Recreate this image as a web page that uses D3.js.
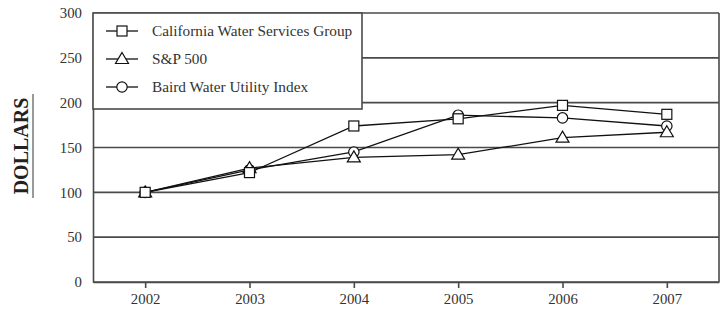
<!DOCTYPE html>
<html>
<head>
<meta charset="utf-8">
<script src="https://cdn.jsdelivr.net/npm/d3@7"></script>
<style>
  html, body { margin: 0; padding: 0; background: #fff; }
  svg { display: block; }
  text { font-family: "Liberation Serif", "Times New Roman", serif; }
</style>
</head>
<body>
<svg id="chart" width="720" height="313"></svg>
<script>
const years = ["2002", "2003", "2004", "2005", "2006", "2007"];
const yTicks = [0, 50, 100, 150, 200, 250, 300];
const seriesNames = ["California Water Services Group", "S&P 500", "Baird Water Utility Index"];
const seriesSymbols = ["square", "triangle", "circle"];
const calWater = [100, 122, 174, 182, 197, 187];
const sp500 = [100, 127, 139, 142, 161, 167];
const baird = [100, 125, 145, 186, 183, 174];
const seriesValues = [calWater, sp500, baird];

const svg = d3.select("#chart");
const W = 720, H = 313;
const m = { left: 93, right: 1, top: 13, bottom: 31 };
const x = d3.scalePoint().domain(years).range([m.left, W - m.right]).padding(0.5);
const y = d3.scaleLinear().domain([0, 300]).range([H - m.bottom, m.top]);

const gridColor = "#4a4a4a";
const textColor = "#333";

// gridlines
svg.append("g").selectAll("line").data(yTicks).join("line")
  .attr("x1", m.left).attr("x2", W - m.right)
  .attr("y1", d => y(d)).attr("y2", d => y(d))
  .attr("stroke", gridColor).attr("stroke-width", 1.6);

// right border
svg.append("line").attr("x1", W - m.right).attr("x2", W - m.right)
  .attr("y1", y(300)).attr("y2", y(0)).attr("stroke", gridColor).attr("stroke-width", 1.6);

// y axis
const yAxis = svg.append("g").attr("transform", `translate(${m.left},0)`)
  .call(d3.axisLeft(y).tickValues(yTicks).tickSize(0).tickPadding(11));
yAxis.select(".domain").attr("stroke", gridColor).attr("stroke-width", 1.6);
yAxis.selectAll("text").attr("font-size", 14.8).attr("fill", textColor)
  .attr("font-family", "Liberation Serif, serif");

// x axis
const xAxis = svg.append("g").attr("transform", `translate(0,${y(0)})`)
  .call(d3.axisBottom(x).tickSize(6).tickPadding(5).tickSizeOuter(0));
xAxis.select(".domain").attr("stroke", gridColor).attr("stroke-width", 1.6);
xAxis.selectAll(".tick line").attr("stroke", gridColor).attr("stroke-width", 1.6);
xAxis.selectAll("text").attr("font-size", 14.8).attr("fill", textColor)
  .attr("font-family", "Liberation Serif, serif");

// y label
const lab = svg.append("g").attr("transform", "translate(28,146) rotate(-90)");
lab.append("text").attr("text-anchor", "middle").attr("font-size", 20)
  .attr("font-weight", "bold").attr("fill", "#222").text("DOLLARS");
lab.append("line").attr("x1", -52).attr("x2", 52).attr("y1", 5).attr("y2", 5)
  .attr("stroke", "#777").attr("stroke-width", 1.5);

function drawSymbol(g, type, cx, cy) {
  if (type === "square") {
    g.append("rect").attr("x", cx - 5).attr("y", cy - 5).attr("width", 10).attr("height", 10)
      .attr("fill", "#fff").attr("stroke", "#111").attr("stroke-width", 1.2);
  } else if (type === "circle") {
    g.append("circle").attr("cx", cx).attr("cy", cy).attr("r", 5.2)
      .attr("fill", "#fff").attr("stroke", "#111").attr("stroke-width", 1.2);
  } else {
    g.append("path").attr("d", `M${cx},${cy - 6.5}L${cx + 6.5},${cy + 4.5}L${cx - 6.5},${cy + 4.5}Z`)
      .attr("fill", "#fff").attr("stroke", "#111").attr("stroke-width", 1.2);
  }
}

const line = d3.line().x((d, i) => x(years[i])).y(d => y(d));
const lines = svg.append("g");
seriesValues.forEach(vals => {
  lines.append("path").datum(vals).attr("d", line)
    .attr("fill", "none").attr("stroke", "#111").attr("stroke-width", 1.3);
});

// markers: circle, triangle, square order
const markers = svg.append("g");
[2, 1, 0].forEach(s => {
  seriesValues[s].forEach((v, i) => drawSymbol(markers, seriesSymbols[s], x(years[i]), y(v)));
});

// legend
const lg = svg.append("g");
lg.append("rect").attr("x", m.left).attr("y", m.top).attr("width", 362 - m.left).attr("height", 109 - m.top)
  .attr("fill", "#fff").attr("stroke", gridColor).attr("stroke-width", 1.6);
seriesNames.forEach((name, i) => {
  const ly = 31 + i * 28;
  lg.append("line").attr("x1", 106).attr("x2", 138).attr("y1", ly).attr("y2", ly)
    .attr("stroke", "#111").attr("stroke-width", 1.3);
  drawSymbol(lg, seriesSymbols[i], 122, ly);
  lg.append("text").attr("x", 152).attr("y", ly + 5).attr("font-size", 15.3)
    .attr("fill", textColor).text(name);
});
</script>
</body>
</html>
